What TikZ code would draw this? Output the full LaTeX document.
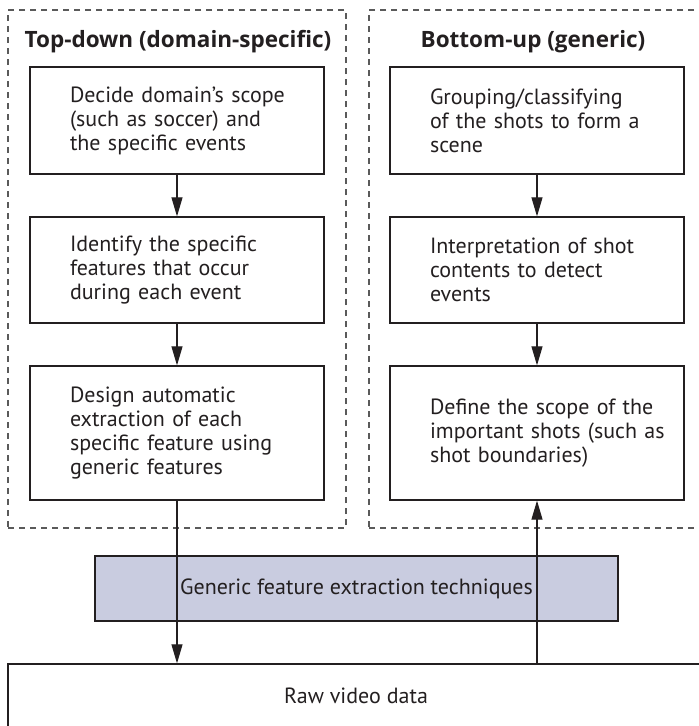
\documentclass[tikz,border=0pt]{standalone}
\usepackage{fontspec}
\setmainfont{PT Sans}
\newfontfamily\headfont{Open Sans}
\usetikzlibrary{arrows.meta,positioning}
\definecolor{ink}{RGB}{35,31,32}
\definecolor{frame}{RGB}{90,90,90}
\definecolor{lavender}{RGB}{201,204,224}
\tikzset{
  >={Triangle[length=19pt,width=11pt]},
  stage/.style={draw=ink,line width=1.3pt,minimum width=294pt,minimum height=#1,
    text width=214pt,inner xsep=40pt,align=left,text=ink,
    font=\fontsize{22}{24}\selectfont},
  stage/.default=106pt,
  group frame/.style={draw=frame,line width=1.2pt,dash pattern=on 6pt off 5pt,
    minimum width=338pt,minimum height=518pt},
  head/.style={font=\headfont\fontsize{22.5}{24}\selectfont\bfseries,text=ink},
  tech/.style={draw=ink,line width=1.3pt,fill=lavender,text=ink,
    minimum width=523pt,minimum height=65pt,font=\fontsize{22}{24}\selectfont},
  rawbox/.style={draw=ink,line width=1.3pt,text=ink,
    minimum width=696pt,minimum height=63pt,font=\fontsize{22}{24}\selectfont},
  flow/.style={->,line width=1.1pt,draw=ink},
}
\begin{document}
\begin{tikzpicture}[x=1pt,y=-1pt]
  \useasboundingbox (0,0) rectangle (699,726);
  \clip (0,0) rectangle (699,726);
  % the two approaches
  \node[group frame] (td) at (177,269) {};
  \node[group frame] (bu) at (538,269) {};
  \node[head] (tdhead) at (178,42) {Top-down (domain-specific)};
  \node[head] (buhead) at (533,42) {Bottom-up (generic)};
  % top-down steps
  \node[stage=107pt] (scope) at (177,120.5) {\mbox{Decide domain’s scope}\\(such as soccer) and\\the specific events};
  \node[stage] (feat) at (177,270) {Identify the specific\\features that occur\\during each event};
  \node[stage=134pt] (extract) at (177,433) {Design automatic\\extraction of each\\\mbox{specific feature using}\\generic features};
  % bottom-up steps
  \node[stage=107pt] (grouping) at (537,120.5) {\mbox{Grouping/classifying}\\\mbox{of the shots to form a}\\scene};
  \node[stage] (interp) at (537,270) {\mbox{Interpretation of shot}\\contents to detect\\events};
  \node[stage=134pt] (define) at (537,433) {\mbox{Define the scope of the}\\\mbox{important shots (such as}\\shot boundaries)};
  % shared layers
  \node[tech] (generic) at (356.5,588.5) {Generic feature extraction techniques};
  \node[rawbox] (raw) at (356,695.5) {Raw video data};
  \draw[flow] (scope) -- (feat);
  \draw[flow] (feat) -- (extract);
  \draw[flow] (extract) -- (extract.south |- raw.north);
  \draw[flow] (grouping) -- (interp);
  \draw[flow] (interp) -- (define);
  \draw[flow] (define.south |- raw.north) -- (define);
\end{tikzpicture}
\end{document}
